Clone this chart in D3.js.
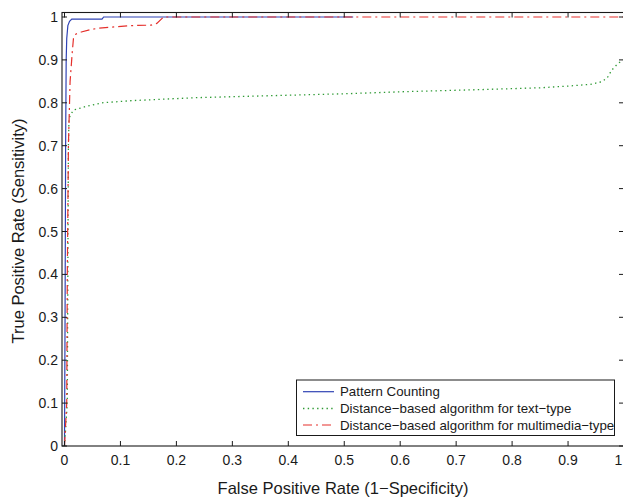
<!DOCTYPE html>
<html><head><meta charset="utf-8">
<script src="https://cdn.jsdelivr.net/npm/d3@7/dist/d3.min.js"></script>
<style>body{margin:0;background:#fff}svg{display:block;font-family:"Liberation Sans",Arial,sans-serif}</style>
</head><body><svg id="c" width="623" height="501"></svg>
<script>
const seriesNames = ["Pattern Counting","Distance\u2212based algorithm for text\u2212type","Distance\u2212based algorithm for multimedia\u2212type"];
const patternX = [0,0.001,0.002,0.003,0.004,0.006,0.009,0.013,0.067,0.07,0.516];
const patternY = [0,0.3,0.7,0.9,0.95,0.98,0.99,0.995,0.995,1,1];
const textX = [0,0.005,0.006,0.007,0.008,0.01,0.016,0.037,0.067,0.12,0.236,0.35,0.5,0.609,0.75,0.85,0.9,0.94,0.96,0.97,0.978,0.988,0.996,1];
const textY = [0,0.1,0.4,0.7,0.76,0.77,0.783,0.791,0.8,0.805,0.812,0.816,0.821,0.826,0.831,0.835,0.839,0.843,0.849,0.858,0.876,0.89,0.898,0.9];
const mediaX = [0,0.004,0.005,0.007,0.01,0.014,0.016,0.02,0.03,0.045,0.06,0.09,0.12,0.155,0.165,0.177,1];
const mediaY = [0,0.1,0.4,0.7,0.85,0.92,0.95,0.96,0.965,0.97,0.974,0.977,0.98,0.981,0.985,1,1];
const xTicks = [0,0.1,0.2,0.3,0.4,0.5,0.6,0.7,0.8,0.9,1];
const yTicks = [0,0.1,0.2,0.3,0.4,0.5,0.6,0.7,0.8,0.9,1];
const xTickLabels = ["0","0.1","0.2","0.3","0.4","0.5","0.6","0.7","0.8","0.9","1"];
const yTickLabels = ["0","0.1","0.2","0.3","0.4","0.5","0.6","0.7","0.8","0.9","1"];
const xTitle = "False Positive Rate (1\u2212Specificity)";
const yTitle = "True Positive Rate (Sensitivity)";

const svg = d3.select("#c");
const L = 62, R = 624, T = 12.5, B = 446;
const x = d3.scaleLinear().domain([0,1]).range([64.5,624]);
const y = d3.scaleLinear().domain([0,1]).range([446,17]);

svg.append("defs").append("clipPath").attr("id","pc").append("rect")
  .attr("x",L).attr("y",T).attr("width",R-L).attr("height",B-T);

const g = svg.append("g").attr("clip-path","url(#pc)");
const line = d3.line().x(d=>x(d[0])).y(d=>y(d[1]));
const styles = [
  {xs:patternX, ys:patternY, color:"#2f43b4", dash:null, w:1.2},
  {xs:textX, ys:textY, color:"#2e9a34", dash:"1.4,3.3", w:1.3},
  {xs:mediaX, ys:mediaY, color:"#e5302c", dash:"9,4,2,4", w:1.2}
];
styles.forEach(s=>{
  const pts = s.xs.map((v,i)=>[v,s.ys[i]]);
  g.append("path").attr("d",line(pts)).attr("fill","none").attr("stroke",s.color)
    .attr("stroke-width",s.w).attr("stroke-dasharray",s.dash);
});

const ax = svg.append("g");
ax.append("rect").attr("x",L).attr("y",T).attr("width",R-L).attr("height",B-T)
  .attr("fill","none").attr("stroke","#1a1a1a").attr("stroke-width",1.1);
const tl = 5;
xTicks.forEach((t,i)=>{
  ax.append("line").attr("x1",x(t)).attr("x2",x(t)).attr("y1",B).attr("y2",B-tl).attr("stroke","#1a1a1a");
  ax.append("line").attr("x1",x(t)).attr("x2",x(t)).attr("y1",T).attr("y2",T+tl).attr("stroke","#1a1a1a");
  const lx = Math.min(x(t), 618.5);
  ax.append("text").attr("x",lx).attr("y",465).attr("text-anchor","middle")
    .attr("font-size",14).attr("fill","#1a1a1a").text(xTickLabels[i]);
});
yTicks.forEach((t,i)=>{
  ax.append("line").attr("x1",L).attr("x2",L+tl).attr("y1",y(t)).attr("y2",y(t)).attr("stroke","#1a1a1a");
  ax.append("line").attr("x1",R).attr("x2",R-tl).attr("y1",y(t)).attr("y2",y(t)).attr("stroke","#1a1a1a");
  ax.append("text").attr("x",58).attr("y",y(t)+5).attr("text-anchor","end")
    .attr("font-size",14).attr("fill","#1a1a1a").text(yTickLabels[i]);
});
svg.append("text").attr("x",343).attr("y",494).attr("text-anchor","middle")
  .attr("font-size",16.5).attr("fill","#1a1a1a").text(xTitle);
svg.append("text").attr("transform","translate(24,231) rotate(-90)").attr("text-anchor","middle")
  .attr("font-size",16.5).attr("fill","#1a1a1a").text(yTitle);

const lg = svg.append("g");
lg.append("rect").attr("x",296.5).attr("y",380).attr("width",318).attr("height",55.5)
  .attr("fill","#fff").attr("stroke","#1a1a1a").attr("stroke-width",1);
const rows = [391.7,408.5,425];
styles.forEach((s,i)=>{
  lg.append("line").attr("x1",303).attr("x2",334).attr("y1",rows[i]).attr("y2",rows[i])
    .attr("stroke",s.color).attr("stroke-width",s.w).attr("stroke-dasharray",s.dash);
  lg.append("text").attr("x",340).attr("y",rows[i]+4.6).attr("font-size",13.3)
    .attr("fill","#1a1a1a").text(seriesNames[i]);
});
</script></body></html>
